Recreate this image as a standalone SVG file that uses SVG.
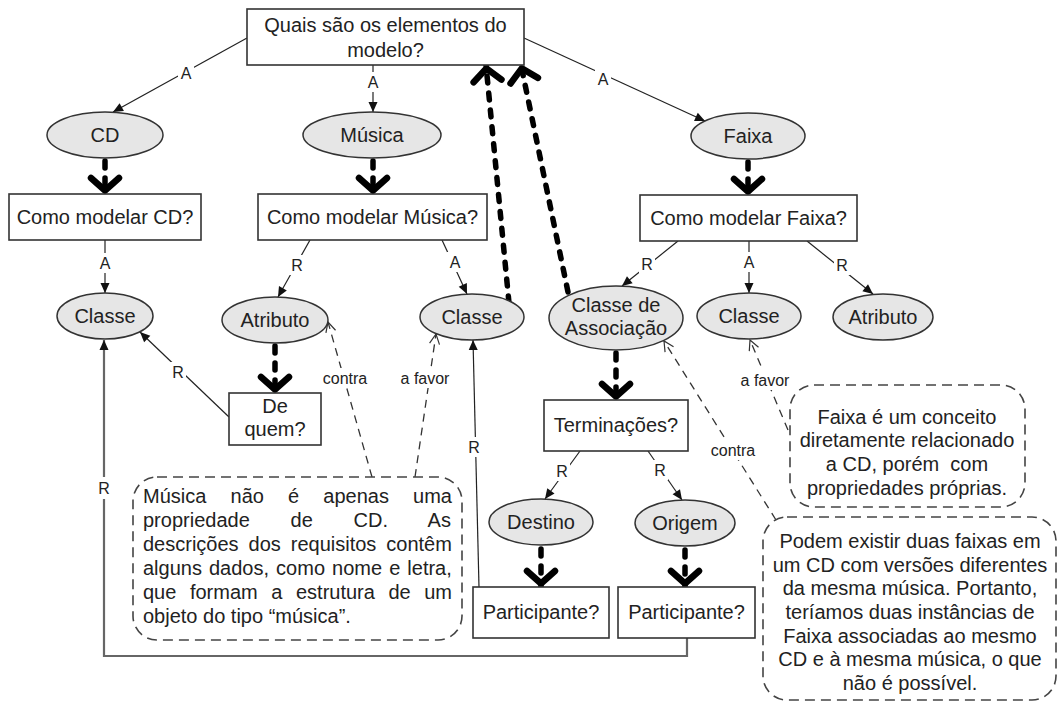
<svg xmlns="http://www.w3.org/2000/svg" width="1058" height="703" viewBox="0 0 1058 703">
<style>
text{font-family:"Liberation Sans",Arial,sans-serif;fill:#222}
.n{font-size:20px;text-anchor:middle}
.box{fill:#fff;stroke:#333;stroke-width:1.6}
.ell{fill:#e6e6e6;stroke:#333;stroke-width:1.5}
.c{font-size:20px}
.cc{font-size:20px;text-anchor:middle}
.call{fill:#fff;stroke:#444;stroke-width:1.6;stroke-dasharray:10 6}
.thin{fill:none;stroke:#222;stroke-width:1.2;marker-end:url(#arr)}
.dash{fill:none;stroke:#333;stroke-width:1.3;stroke-dasharray:8 6;marker-end:url(#open)}
.thick{fill:none;stroke:#000;stroke-width:5.5;stroke-dasharray:7 10;stroke-linecap:round;marker-end:url(#chev)}
.gray{fill:none;stroke:#666;stroke-width:2.2;marker-end:url(#arr)}
.lb{fill:#fff}
.l{font-size:16px;text-anchor:middle}
</style>
<defs>
<marker id="arr" markerUnits="userSpaceOnUse" orient="auto" markerWidth="14" markerHeight="14" viewBox="-12 -7 14 14" refX="0" refY="0"><path d="M-10,-4.5 L0,0 L-10,4.5 z" fill="#111"/></marker>
<marker id="open" markerUnits="userSpaceOnUse" orient="auto" markerWidth="14" markerHeight="14" viewBox="-12 -7 14 14" refX="0" refY="0"><path d="M-10,-5 L0,0 L-10,5" fill="none" stroke="#333" stroke-width="1.2" stroke-dasharray="none"/></marker>
<marker id="chev" markerUnits="userSpaceOnUse" orient="auto" markerWidth="44" markerHeight="44" viewBox="-22 -22 44 44" refX="0" refY="0"><path d="M-16,-14 L-3.5,0 L-16,14" fill="none" stroke="#000" stroke-width="6.5" stroke-linejoin="round" stroke-linecap="round" stroke-dasharray="none"/></marker>
</defs>

<g id="connectors">
  <!-- thin solid arrows -->
  <path class="thin" d="M247,38 L113,112"/>
  <path class="thin" d="M373,65 L373,112"/>
  <path class="thin" d="M524,38 L705,121"/>
  <path class="thin" d="M105,240 L105,293"/>
  <path class="thin" d="M310,240 L278,297"/>
  <path class="thin" d="M442,240 L467,294"/>
  <path class="thin" d="M678,241 L622,286"/>
  <path class="thin" d="M749,241 L749,293"/>
  <path class="thin" d="M807,241 L873,294"/>
  <path class="thin" d="M229,417 L140,332"/>
  <path class="thin" d="M580,451 L545,499"/>
  <path class="thin" d="M648,451 L682,500"/>
  <path class="thin" d="M479,587 L473,340"/>
  <path class="gray" d="M687,638 L687,656 L104,656 L104,340"/>
  <!-- thick dashed arrows -->
  <path class="thick" d="M105,161 L105,194"/>
  <path class="thick" d="M373,161 L373,194"/>
  <path class="thick" d="M748,162 L748,195"/>
  <path class="thick" d="M275,346 L275,393"/>
  <path class="thick" d="M616,353 L616,400"/>
  <path class="thick" d="M541,549 L541,587"/>
  <path class="thick" d="M685,550 L685,587"/>
  <path class="thick" d="M509,303 L486,65"/>
  <path class="thick" d="M568,292 L521,65"/>
  <!-- dashed argument arrows -->
  <path class="dash" d="M372,477 L328,322"/>
  <path class="dash" d="M415,477 L436,334"/>
  <path class="dash" d="M788,430 L750,340"/>
  <path class="dash" d="M776,520 L664,341"/>
  <!-- labels -->
  <rect class="lb" x="178" y="63" width="16" height="20"/><text class="l" x="186" y="79">A</text>
  <rect class="lb" x="365" y="72" width="16" height="20"/><text class="l" x="373" y="88">A</text>
  <rect class="lb" x="595" y="69" width="16" height="20"/><text class="l" x="603" y="85">A</text>
  <rect class="lb" x="97" y="253" width="16" height="20"/><text class="l" x="105" y="269">A</text>
  <rect class="lb" x="289" y="255" width="16" height="20"/><text class="l" x="297" y="271">R</text>
  <rect class="lb" x="447" y="252" width="16" height="20"/><text class="l" x="455" y="268">A</text>
  <rect class="lb" x="639" y="254" width="16" height="20"/><text class="l" x="647" y="270">R</text>
  <rect class="lb" x="741" y="252" width="16" height="20"/><text class="l" x="749" y="268">A</text>
  <rect class="lb" x="834" y="255" width="16" height="20"/><text class="l" x="842" y="271">R</text>
  <rect class="lb" x="170" y="362" width="16" height="20"/><text class="l" x="178" y="378">R</text>
  <rect class="lb" x="96" y="477" width="16" height="22"/><text class="l" x="104" y="494">R</text>
  <rect class="lb" x="466" y="437" width="16" height="20"/><text class="l" x="474" y="453">R</text>
  <rect class="lb" x="554" y="461" width="16" height="20"/><text class="l" x="562" y="477">R</text>
  <rect class="lb" x="652" y="460" width="16" height="20"/><text class="l" x="660" y="476">R</text>
  <rect class="lb" x="320" y="368" width="50" height="20"/><text class="l" x="345" y="384">contra</text>
  <rect class="lb" x="398" y="368" width="54" height="20"/><text class="l" x="425" y="384">a favor</text>
  <rect class="lb" x="738" y="370" width="54" height="20"/><text class="l" x="765" y="386">a favor</text>
  <rect class="lb" x="708" y="440" width="50" height="20"/><text class="l" x="733" y="456">contra</text>
</g>

<g id="n_top"><rect class="box" x="247" y="9" width="277" height="56"/><text class="n" x="385.5" y="32">Quais são os elementos do</text><text class="n" x="385.5" y="57">modelo?</text></g>
<g id="n_cd"><ellipse class="ell" cx="105" cy="135" rx="58" ry="23"/><text class="n" x="105" y="142">CD</text></g>
<g id="n_musica"><ellipse class="ell" cx="372" cy="135" rx="69" ry="23"/><text class="n" x="372" y="142">Música</text></g>
<g id="n_faixa"><ellipse class="ell" cx="748" cy="136" rx="57" ry="23"/><text class="n" x="748" y="143">Faixa</text></g>
<g id="n_q_cd"><rect class="box" x="9" y="194" width="192" height="46"/><text class="n" x="105" y="224">Como modelar CD?</text></g>
<g id="n_q_musica"><rect class="box" x="258" y="194" width="229" height="46"/><text class="n" x="372.5" y="224">Como modelar Música?</text></g>
<g id="n_q_faixa"><rect class="box" x="640" y="195" width="217" height="46"/><text class="n" x="748.5" y="225">Como modelar Faixa?</text></g>
<g id="n_classe1"><ellipse class="ell" cx="105" cy="316" rx="48" ry="23"/><text class="n" x="105" y="323">Classe</text></g>
<g id="n_atributo1"><ellipse class="ell" cx="275" cy="320" rx="53" ry="23"/><text class="n" x="275" y="327">Atributo</text></g>
<g id="n_classe2"><ellipse class="ell" cx="472" cy="317" rx="52" ry="23"/><text class="n" x="472" y="324">Classe</text></g>
<g id="n_assoc"><ellipse class="ell" cx="616" cy="318" rx="67" ry="32"/><text class="n" x="616" y="312">Classe de</text><text class="n" x="616" y="335">Associação</text></g>
<g id="n_classe3"><ellipse class="ell" cx="749" cy="316" rx="52" ry="23"/><text class="n" x="749" y="323">Classe</text></g>
<g id="n_atributo2"><ellipse class="ell" cx="883" cy="317" rx="50" ry="23"/><text class="n" x="883" y="324">Atributo</text></g>
<g id="n_dequem"><rect class="box" x="229" y="393" width="92" height="52"/><text class="n" x="275" y="413">De</text><text class="n" x="275" y="436">quem?</text></g>
<g id="n_term"><rect class="box" x="544" y="400" width="144" height="51"/><text class="n" x="616" y="432">Terminações?</text></g>
<g id="n_destino"><ellipse class="ell" cx="541" cy="522" rx="52" ry="23"/><text class="n" x="541" y="529">Destino</text></g>
<g id="n_origem"><ellipse class="ell" cx="685" cy="523" rx="50" ry="23"/><text class="n" x="685" y="530">Origem</text></g>
<g id="n_part1"><rect class="box" x="473" y="587" width="136" height="51"/><text class="n" x="541" y="619">Participante?</text></g>
<g id="n_part2"><rect class="box" x="618" y="587" width="137" height="51"/><text class="n" x="686.5" y="619">Participante?</text></g>

<g id="note_musica">
  <rect class="call" x="133" y="477" width="329" height="163" rx="24" ry="24"/>
  <text class="c" x="143" y="503" word-spacing="18.6">Música não é apenas uma</text>
  <text class="c" x="143" y="527" word-spacing="35.2">propriedade de CD. As</text>
  <text class="c" x="143" y="551" word-spacing="4.4">descrições dos requisitos contêm</text>
  <text class="c" x="143" y="575" word-spacing="1.5">alguns dados, como nome e letra,</text>
  <text class="c" x="143" y="599" word-spacing="8">que formam a estrutura de um</text>
  <text class="c" x="143" y="623">objeto do tipo “música”.</text>
</g>
<g id="note_faixa">
  <rect class="call" x="790" y="385" width="235" height="122" rx="24" ry="24"/>
  <text class="cc" x="907" y="424">Faixa é um conceito</text>
  <text class="cc" x="907" y="447">diretamente relacionado</text>
  <text class="cc" x="907" y="471" xml:space="preserve">a CD, porém  com</text>
  <text class="cc" x="907" y="495">propriedades próprias.</text>
</g>
<g id="note_assoc">
  <rect class="call" x="763" y="517" width="293" height="183" rx="24" ry="24"/>
  <text class="cc" x="910" y="548">Podem existir duas faixas em</text>
  <text class="cc" x="910" y="572">um CD com versões diferentes</text>
  <text class="cc" x="910" y="595">da mesma música. Portanto,</text>
  <text class="cc" x="910" y="619">teríamos duas instâncias de</text>
  <text class="cc" x="910" y="643">Faixa associadas ao mesmo</text>
  <text class="cc" x="910" y="666">CD e à mesma música, o que</text>
  <text class="cc" x="910" y="690">não é possível.</text>
</g>
</svg>
